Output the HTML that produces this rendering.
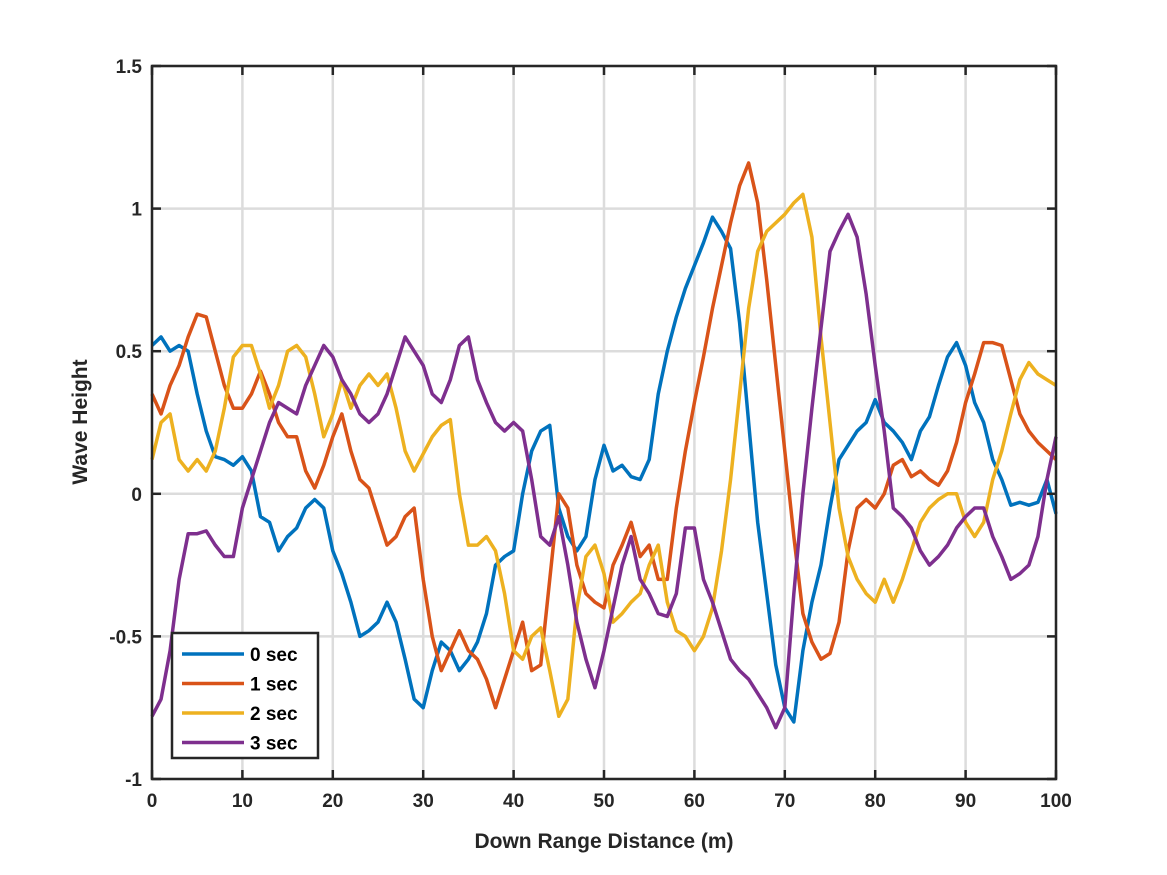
<!DOCTYPE html>
<html><head><meta charset="utf-8"><style>
html,body{margin:0;padding:0;background:#fff;}
svg{display:block;font-family:"Liberation Sans",Arial,sans-serif;font-weight:bold;}
</style></head><body>
<svg id="chart" width="1167" height="875" viewBox="0 0 1167 875" xmlns="http://www.w3.org/2000/svg">
<rect width="1167" height="875" fill="#fff"/>
<g id="grid"></g>
<g id="series"></g>
<rect x="152" y="66" width="904" height="713" fill="none" stroke="#262626" stroke-width="2.5"/>
<g id="ticks"></g>
<text x="604" y="848" text-anchor="middle" font-size="21" fill="#262626">Down Range Distance (m)</text>
<text x="87" y="422" text-anchor="middle" font-size="21" fill="#262626" transform="rotate(-90 87 422)">Wave Height</text>
<g id="legend"></g>
</svg>
<script>
const xTicks = [0,10,20,30,40,50,60,70,80,90,100];
const yTicks = [1.5,1,0.5,0,-0.5,-1];
const yTickLabels = ["1.5","1","0.5","0","-0.5","-1"];
const seriesNames = ["0 sec","1 sec","2 sec","3 sec"];
const seriesColors = ["#0072BD","#D95319","#EDB120","#7E2F8E"];
const s0 = [0.52,0.55,0.50,0.52,0.50,0.35,0.22,0.13,0.12,0.10,0.13,0.08,-0.08,-0.10,-0.20,-0.15,-0.12,-0.05,-0.02,-0.05,-0.20,-0.28,-0.38,-0.50,-0.48,-0.45,-0.38,-0.45,-0.58,-0.72,-0.75,-0.62,-0.52,-0.55,-0.62,-0.58,-0.52,-0.42,-0.25,-0.22,-0.20,0.0,0.15,0.22,0.24,-0.05,-0.15,-0.20,-0.15,0.05,0.17,0.08,0.10,0.06,0.05,0.12,0.35,0.50,0.62,0.72,0.80,0.88,0.97,0.92,0.86,0.60,0.25,-0.10,-0.35,-0.60,-0.75,-0.80,-0.55,-0.38,-0.25,-0.05,0.12,0.17,0.22,0.25,0.33,0.25,0.22,0.18,0.12,0.22,0.27,0.38,0.48,0.53,0.45,0.32,0.25,0.12,0.05,-0.04,-0.03,-0.04,-0.03,0.05,-0.07];
const s1 = [0.35,0.28,0.38,0.45,0.55,0.63,0.62,0.50,0.38,0.30,0.30,0.35,0.43,0.35,0.25,0.20,0.20,0.08,0.02,0.10,0.20,0.28,0.15,0.05,0.02,-0.08,-0.18,-0.15,-0.08,-0.05,-0.30,-0.50,-0.62,-0.55,-0.48,-0.55,-0.58,-0.65,-0.75,-0.65,-0.55,-0.45,-0.62,-0.60,-0.30,0.0,-0.05,-0.25,-0.35,-0.38,-0.40,-0.25,-0.18,-0.10,-0.22,-0.18,-0.30,-0.30,-0.05,0.15,0.32,0.48,0.65,0.80,0.95,1.08,1.16,1.02,0.75,0.45,0.15,-0.15,-0.42,-0.52,-0.58,-0.56,-0.45,-0.20,-0.05,-0.02,-0.05,0.0,0.10,0.12,0.06,0.08,0.05,0.03,0.08,0.18,0.32,0.42,0.53,0.53,0.52,0.40,0.28,0.22,0.18,0.15,0.12];
const s2 = [0.12,0.25,0.28,0.12,0.08,0.12,0.08,0.15,0.30,0.48,0.52,0.52,0.42,0.30,0.38,0.50,0.52,0.48,0.35,0.20,0.28,0.40,0.30,0.38,0.42,0.38,0.42,0.30,0.15,0.08,0.14,0.20,0.24,0.26,0.0,-0.18,-0.18,-0.15,-0.20,-0.35,-0.55,-0.58,-0.50,-0.47,-0.62,-0.78,-0.72,-0.40,-0.22,-0.18,-0.28,-0.45,-0.42,-0.38,-0.35,-0.25,-0.18,-0.38,-0.48,-0.50,-0.55,-0.50,-0.40,-0.20,0.05,0.35,0.65,0.85,0.92,0.95,0.98,1.02,1.05,0.90,0.55,0.25,-0.05,-0.22,-0.30,-0.35,-0.38,-0.30,-0.38,-0.30,-0.20,-0.10,-0.05,-0.02,0.0,0.0,-0.10,-0.15,-0.10,0.05,0.15,0.28,0.40,0.46,0.42,0.40,0.38];
const s3 = [-0.78,-0.72,-0.55,-0.30,-0.14,-0.14,-0.13,-0.18,-0.22,-0.22,-0.05,0.05,0.15,0.25,0.32,0.30,0.28,0.38,0.45,0.52,0.48,0.40,0.35,0.28,0.25,0.28,0.35,0.45,0.55,0.50,0.45,0.35,0.32,0.40,0.52,0.55,0.40,0.32,0.25,0.22,0.25,0.22,0.05,-0.15,-0.18,-0.08,-0.25,-0.45,-0.58,-0.68,-0.55,-0.40,-0.25,-0.15,-0.30,-0.35,-0.42,-0.43,-0.35,-0.12,-0.12,-0.30,-0.38,-0.48,-0.58,-0.62,-0.65,-0.70,-0.75,-0.82,-0.75,-0.35,0.0,0.30,0.58,0.85,0.92,0.98,0.90,0.70,0.45,0.22,-0.05,-0.08,-0.12,-0.20,-0.25,-0.22,-0.18,-0.12,-0.08,-0.05,-0.05,-0.15,-0.22,-0.30,-0.28,-0.25,-0.15,0.05,0.20];
const allSeries = [s0,s1,s2,s3];

const NS="http://www.w3.org/2000/svg";
const X0=152,X1=1056,Y0=66,Y1=779,xMin=0,xMax=100,yMin=-1,yMax=1.5;
function xs(v){return X0+(v-xMin)/(xMax-xMin)*(X1-X0);}
function ys(v){return Y1-(v-yMin)/(yMax-yMin)*(Y1-Y0);}
function mk(tag,attrs,parent){const e=document.createElementNS(NS,tag);for(const k in attrs)e.setAttribute(k,attrs[k]);parent.appendChild(e);return e;}
const grid=document.getElementById('grid'),ticks=document.getElementById('ticks'),ser=document.getElementById('series'),leg=document.getElementById('legend');

xTicks.forEach(t=>{
  const g=mk('line',{x1:xs(t),x2:xs(t),y1:Y0,y2:Y1,stroke:'#dcdcdc','stroke-width':2.5},grid);
  
  
  const a=mk('line',{x1:xs(t),x2:xs(t),y1:Y1,y2:Y1-9,stroke:'#262626','stroke-width':2.5},ticks);
  
  
  const b=mk('line',{x1:xs(t),x2:xs(t),y1:Y0,y2:Y0+9,stroke:'#262626','stroke-width':2.5},ticks);
  
  
  const l=mk('text',{x:xs(t),y:Y1+28,'text-anchor':'middle','font-size':19,fill:'#262626'},ticks);
  l.textContent=String(t);
  
  
});
yTicks.forEach((t,i)=>{
  const g=mk('line',{x1:X0,x2:X1,y1:ys(t),y2:ys(t),stroke:'#dcdcdc','stroke-width':2.5},grid);
  
  
  const a=mk('line',{x1:X0,x2:X0+9,y1:ys(t),y2:ys(t),stroke:'#262626','stroke-width':2.5},ticks);
  
  
  const b=mk('line',{x1:X1,x2:X1-9,y1:ys(t),y2:ys(t),stroke:'#262626','stroke-width':2.5},ticks);
  
  
  const l=mk('text',{x:X0-10,y:ys(t)+7,'text-anchor':'end','font-size':19,fill:'#262626'},ticks);
  l.textContent=yTickLabels[i];
  
  
});
allSeries.forEach((arr,si)=>{
  const pts=arr.map((v,i)=>xs(i*(xMax-xMin)/(arr.length-1))+','+ys(v)).join(' ');
  const p=mk('polyline',{points:pts,fill:'none',stroke:seriesColors[si],'stroke-width':3.5,'stroke-linejoin':'round'},ser);
  
  
});
const lb=mk('rect',{x:172,y:633,width:146,height:125,fill:'#fff',stroke:'#262626','stroke-width':2.5},leg);


seriesNames.forEach((n,i)=>{
  const y=654+i*29.5;
  const ln=mk('line',{x1:182,x2:244,y1:y,y2:y,stroke:seriesColors[i],'stroke-width':3.5},leg);
  
  
  const t=mk('text',{x:250,y:y+7,'font-size':19,fill:'#000'},leg);
  t.textContent=n;
  
  
});
</script>
</body></html>
